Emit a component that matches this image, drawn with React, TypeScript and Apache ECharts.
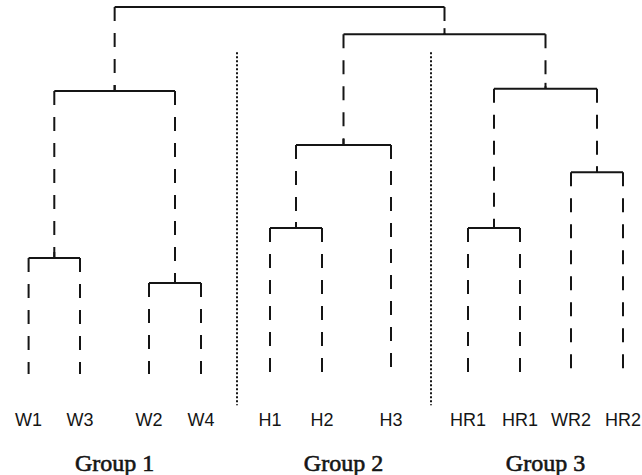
import React, { useEffect, useRef } from "react";
import * as echarts from "echarts";

// Leaves of the dendrogram, in display order, with their positions on the leaf axis
const leafLabels = ["W1", "W3", "W2", "W4", "H1", "H2", "H3", "HR1", "HR1", "WR2", "HR2"];
const leafPositions = [28.6, 80, 149, 201, 270, 322, 391, 468, 520, 571, 623];

// Merges (node ids: leaves 0..10, merges 11..20 in this order)
const mergeLeft = [0, 2, 11, 4, 14, 7, 9, 16, 15, 13];
const mergeRight = [1, 3, 12, 5, 6, 8, 10, 17, 18, 19];
const mergeHeights = [3.16, 2.48, 7.71, 3.98, 6.24, 3.98, 5.5, 7.77, 9.26, 10];

// Groups
const groupLabels = ["Group 1", "Group 2", "Group 3"];
const groupNodes = [13, 15, 18];

// Dotted separators between groups (leaf-axis position) and their height range
const separatorPositions = [237, 431];
const separatorRange = [-0.85, 8.77];

const nLeaves = leafLabels.length;

function buildNodes() {
  const xs: number[] = [...leafPositions];
  const hs: number[] = leafPositions.map(() => 0);
  mergeLeft.forEach((l, i) => {
    const r = mergeRight[i];
    xs.push((xs[l] + xs[r]) / 2);
    hs.push(mergeHeights[i]);
  });
  return { xs, hs };
}

export default function App() {
  const ref = useRef<HTMLDivElement>(null);

  useEffect(() => {
    if (!ref.current) return;
    const chart = echarts.init(ref.current, undefined, { renderer: "svg" });
    const { xs, hs } = buildNodes();
    const ink = "#151515";

    const option: any = {
      animation: false,
      backgroundColor: "#ffffff",
      grid: { left: 0, right: 0, top: 7, bottom: 101 },
      xAxis: { type: "value", min: 0, max: 642, show: false },
      yAxis: { type: "value", min: 0, max: 10, show: false },
      series: [
        {
          type: "custom",
          name: "links",
          coordinateSystem: "cartesian2d",
          data: mergeHeights.map((h, i) => [i, h]),
          renderItem: (params: any, api: any) => {
            const i = params.dataIndex;
            const id = nLeaves + i;
            const l = mergeLeft[i];
            const r = mergeRight[i];
            const h = hs[id];
            const pL = api.coord([xs[l], h]);
            const pR = api.coord([xs[r], h]);
            const pLc = api.coord([xs[l], hs[l]]);
            const pRc = api.coord([xs[r], hs[r]]);
            const pM = api.coord([xs[id], h]);
            const children: any[] = [
              {
                type: "line",
                shape: { x1: pL[0], y1: pL[1], x2: pR[0], y2: pR[1] },
                style: { stroke: ink, lineWidth: 2 },
              },
              {
                type: "line",
                shape: { x1: pL[0], y1: pL[1], x2: pLc[0], y2: pLc[1] },
                style: { stroke: ink, lineWidth: 2, lineDash: [14, 12] },
              },
              {
                type: "line",
                shape: { x1: pR[0], y1: pR[1], x2: pRc[0], y2: pRc[1] },
                style: { stroke: ink, lineWidth: 2, lineDash: [14, 12] },
              },
            ];
            if (i < mergeHeights.length - 1) {
              children.push({
                type: "line",
                shape: { x1: pM[0], y1: pM[1], x2: pM[0], y2: pM[1] - 6 },
                style: { stroke: ink, lineWidth: 2 },
              });
            }
            return { type: "group", children };
          },
        },
        {
          type: "custom",
          name: "separators",
          coordinateSystem: "cartesian2d",
          data: separatorPositions.map((x) => [x, separatorRange[1]]),
          renderItem: (params: any, api: any) => {
            const x = separatorPositions[params.dataIndex];
            const a = api.coord([x, separatorRange[1]]);
            const b = api.coord([x, separatorRange[0]]);
            return {
              type: "line",
              shape: { x1: a[0], y1: a[1], x2: b[0], y2: b[1] },
              style: { stroke: ink, lineWidth: 2, lineDash: [2, 2] },
            };
          },
        },
        {
          type: "custom",
          name: "leafLabels",
          coordinateSystem: "cartesian2d",
          data: leafPositions.map((x) => [x, 0]),
          renderItem: (params: any, api: any) => {
            const i = params.dataIndex;
            const p = api.coord([leafPositions[i], 0]);
            return {
              type: "text",
              x: p[0],
              y: p[1] + 46,
              style: {
                text: leafLabels[i],
                fill: ink,
                fontSize: 18,
                fontFamily: "Liberation Sans, Arial, sans-serif",
                align: "center",
                verticalAlign: "middle",
              },
            };
          },
        },
        {
          type: "custom",
          name: "groupLabels",
          coordinateSystem: "cartesian2d",
          data: groupNodes.map((n) => [xs[n], 0]),
          renderItem: (params: any, api: any) => {
            const i = params.dataIndex;
            const p = api.coord([xs[groupNodes[i]], 0]);
            return {
              type: "text",
              x: p[0],
              y: p[1] + 89,
              style: {
                text: groupLabels[i],
                fill: ink,
                stroke: ink,
                lineWidth: 0.6,
                fontSize: 24,
                fontFamily: "Liberation Serif, Times New Roman, serif",
                align: "center",
                verticalAlign: "middle",
              },
            };
          },
        },
      ],
    };
    chart.setOption(option);
    return () => chart.dispose();
  }, []);

  return (
    <div
      ref={ref}
      style={{ position: "fixed", left: 0, top: 0, width: 642, height: 475, background: "#fff" }}
    />
  );
}
